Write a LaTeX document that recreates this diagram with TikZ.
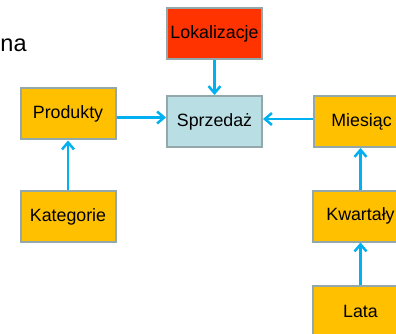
\documentclass[tikz,border=0pt]{standalone}
\usepackage{fontspec}
\setmainfont{Liberation Sans}
\usetikzlibrary{arrows.meta}
\definecolor{boxgold}{HTML}{FFC000}
\definecolor{boxred}{HTML}{FF3300}
\definecolor{boxblue}{HTML}{B9DFE4}
\definecolor{boxedge}{HTML}{93A8AB}
\definecolor{linkblue}{HTML}{00B0F0}
\begin{document}
\begin{tikzpicture}[x=1pt,y=-1pt,
  dim/.style={draw=boxedge, line width=2pt, minimum width=95pt, minimum height=51pt,
    inner sep=0pt, font=\fontsize{17.8}{20}\selectfont, text=black},
  level/.style={dim, fill=boxgold},
  place/.style={dim, fill=boxred},
  fact/.style={dim, fill=boxblue},
  link/.style={draw=linkblue, line width=2.5pt,
    -{Straight Barb[length=7pt,width=12pt,line width=2.5pt]}}]
  \useasboundingbox (0,0) rectangle (396,334);

  % heading fragment
  \node[anchor=base west, inner sep=0pt, font=\fontsize{23.5}{26}\selectfont] (head) at (0.3,52) {na};

  % fact table and dimensions
  \node[fact]  (sprz) at (214.5,121.5) {Sprzedaż};
  \node[place] (lok)  at (214.5,34)    {Lokalizacje};
  \node[level] (prod) at (68,114)      {Produkty};
  \node[level] (kat)  at (68,216.5)    {Kategorie};
  \node[level] (mies) at (361.5,121.5) {Miesiąc};
  \node[level] (kw)   at (360.5,216)   {Kwartały};
  \node[level] (lata) at (360.5,311.5) {Lata};

  % connector levels
  \coordinate (rowP) at (0,117.5);
  \coordinate (rowM) at (0,119);
  \coordinate (colM) at (360.5,0);

  \draw[link] (lok.south) -- (sprz.north);
  \draw[link] (prod.east |- rowP) -- (sprz.west |- rowP);
  \draw[link] (mies.west |- rowM) -- (sprz.east |- rowM);
  \draw[link] (kat.north) -- (prod.south);
  \draw[link] (colM |- kw.north) -- (colM |- mies.south);
  \draw[link] (lata.north) -- (kw.south);
\end{tikzpicture}
\end{document}
